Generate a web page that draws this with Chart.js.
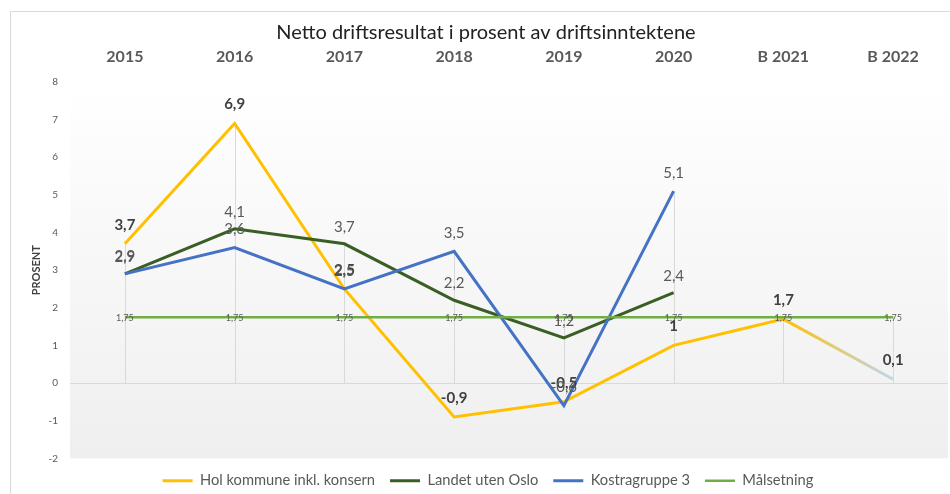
<!DOCTYPE html>
<html>
<head>
<meta charset="utf-8">
<script src="https://cdn.jsdelivr.net/npm/chart.js"></script>
<style>
  body { margin: 0; background: #fff; }
  #wrap { position: relative; width: 950px; height: 494px; overflow: hidden; }
  #frame { position: absolute; left: 10px; top: 11px; width: 960px; height: 500px; border: 1px solid #d9d9d9; }
  #c { position: absolute; left: 0; top: 0; }
</style>
</head>
<body>
<div id="wrap"><div id="frame"></div><canvas id="c" width="950" height="494"></canvas></div>
<script>
// categories and series
var years = ['2015', '2016', '2017', '2018', '2019', '2020', 'B 2021', 'B 2022'];
var holValues = [3.7, 6.9, 2.5, -0.9, -0.5, 1, 1.7, 0.1];
var landetValues = [2.9, 4.1, 3.7, 2.2, 1.2, 2.4, null, null];
var kostraValues = [2.9, 3.6, 2.5, 3.5, -0.6, 5.1, null, null];
var maalValues = [1.75, 1.75, 1.75, 1.75, 1.75, 1.75, 1.75, 1.75];
var yMin = -2, yMax = 8, yStep = 1;
var chartTitle = 'Netto driftsresultat i prosent av driftsinntektene';

var FONT = 'Lato';
var canvas = document.getElementById('c');

// last budget segment of Hol fades from yellow to light blue
function holSegment(ctx) {
  if (ctx.p1DataIndex !== 7) return undefined;
  var g = canvas.getContext('2d').createLinearGradient(ctx.p0.x, ctx.p0.y, ctx.p1.x, ctx.p1.y);
  g.addColorStop(0, '#FFC000');
  g.addColorStop(1, '#BDD7EE');
  return g;
}

var labelStyle = [
  { font: 'bold 15px ' + FONT, color: '#404040', dy: -19 },
  { font: '15px ' + FONT, color: '#595959', dy: -17 },
  { font: '15px ' + FONT, color: '#595959', dy: -18 },
  { font: '9px ' + FONT, color: '#595959', dy: 1 }
];

var plotBg = {
  id: 'plotBg',
  beforeDraw: function(chart) {
    var a = chart.chartArea, ctx = chart.ctx;
    var g = ctx.createLinearGradient(0, a.top, 0, a.bottom);
    g.addColorStop(0, '#ffffff');
    g.addColorStop(1, '#efefef');
    ctx.save();
    ctx.fillStyle = g;
    ctx.fillRect(a.left, a.top, a.right - a.left, a.bottom - a.top);
    ctx.restore();
  }
};

// title sits a little right of the canvas centre, like the original
var titlePlugin = {
  id: 'titlePlugin',
  afterDraw: function(chart) {
    var ctx = chart.ctx;
    ctx.save();
    ctx.font = '20px ' + FONT;
    ctx.fillStyle = '#222';
    ctx.textAlign = 'center';
    ctx.textBaseline = 'middle';
    ctx.fillText(chartTitle, 486, 33);
    ctx.restore();
  }
};

// drop lines from highest point down to the zero axis
var dropLines = {
  id: 'dropLines',
  beforeDatasetsDraw: function(chart) {
    var x = chart.scales.x, y = chart.scales.y, ctx = chart.ctx;
    ctx.save();
    ctx.strokeStyle = '#d9d9d9';
    ctx.lineWidth = 1;
    years.forEach(function(_, j) {
      var top = null;
      chart.data.datasets.forEach(function(ds) {
        var v = ds.data[j];
        if (v !== null && (top === null || v > top)) top = v;
      });
      var px = Math.round(x.getPixelForValue(j)) + 0.5;
      ctx.beginPath();
      ctx.moveTo(px, y.getPixelForValue(Math.max(top, 0)));
      ctx.lineTo(px, y.getPixelForValue(0));
      ctx.stroke();
    });
    ctx.restore();
  }
};

var dataLabels = {
  id: 'dataLabels',
  afterDatasetsDraw: function(chart) {
    var ctx = chart.ctx;
    chart.data.datasets.forEach(function(ds, i) {
      var meta = chart.getDatasetMeta(i), st = labelStyle[i];
      ctx.save();
      ctx.font = st.font;
      ctx.fillStyle = st.color;
      ctx.textAlign = 'center';
      ctx.textBaseline = 'middle';
      meta.data.forEach(function(pt, j) {
        var v = ds.data[j];
        if (v === null) return;
        ctx.fillText(String(v).replace('.', ','), pt.x, pt.y + st.dy);
      });
      ctx.restore();
    });
  }
};

new Chart(canvas.getContext('2d'), {
  type: 'line',
  data: {
    labels: years,
    datasets: [{
      label: 'Hol kommune inkl. konsern',
      data: holValues,
      borderColor: '#FFC000',
      backgroundColor: '#FFC000',
      borderWidth: 3,
      pointRadius: 0,
      pointStyle: 'line',
      order: 3,
      segment: { borderColor: holSegment }
    }, {
      label: 'Landet uten Oslo',
      data: landetValues,
      borderColor: '#3A5F24',
      backgroundColor: '#3A5F24',
      borderWidth: 3,
      pointRadius: 0,
      pointStyle: 'line',
      order: 2
    }, {
      label: 'Kostragruppe 3',
      data: kostraValues,
      borderColor: '#4472C4',
      backgroundColor: '#4472C4',
      borderWidth: 3,
      pointRadius: 0,
      pointStyle: 'line',
      order: 1
    }, {
      label: 'Målsetning',
      data: maalValues,
      borderColor: '#70AD47',
      backgroundColor: '#70AD47',
      borderWidth: 2.5,
      pointRadius: 0,
      pointStyle: 'line',
      order: 0
    }]
  },
  options: {
    responsive: false,
    animation: false,
    layout: { padding: { left: 28, right: 2, top: 44, bottom: -4 } },
    plugins: {
      tooltip: { enabled: false },
      title: { display: false },
      legend: {
        position: 'bottom',
        labels: {
          usePointStyle: true,
          pointStyleWidth: 30,
          boxHeight: 3,
          color: '#595959',
          font: { family: FONT, size: 14.7 },
          padding: 15,
          sort: function(a, b) { return a.datasetIndex - b.datasetIndex; }
        }
      }
    },
    scales: {
      x: {
        position: 'top',
        offset: true,
        grid: { display: false, offset: false },
        border: { display: false },
        ticks: {
          color: '#595959',
          font: { family: FONT, size: 16, weight: 'bold' },
          padding: 8
        },
        afterFit: function(s) { s.height = 38; }
      },
      y: {
        min: yMin,
        max: yMax,
        border: { display: false },
        grid: {
          drawTicks: false,
          color: function(c) { return c.tick && c.tick.value === 0 ? '#d9d9d9' : 'rgba(0,0,0,0)'; }
        },
        ticks: {
          stepSize: yStep,
          color: '#595959',
          font: { family: FONT, size: 10 },
          padding: 12
        },
        title: {
          display: true,
          text: 'PROSENT',
          color: '#404040',
          font: { family: FONT, size: 11, weight: 'bold' },
          padding: { top: 2, bottom: 0 }
        },
        afterFit: function(s) { s.width = 42; }
      }
    }
  },
  plugins: [plotBg, dropLines, dataLabels, titlePlugin]
});
</script>
</body>
</html>
